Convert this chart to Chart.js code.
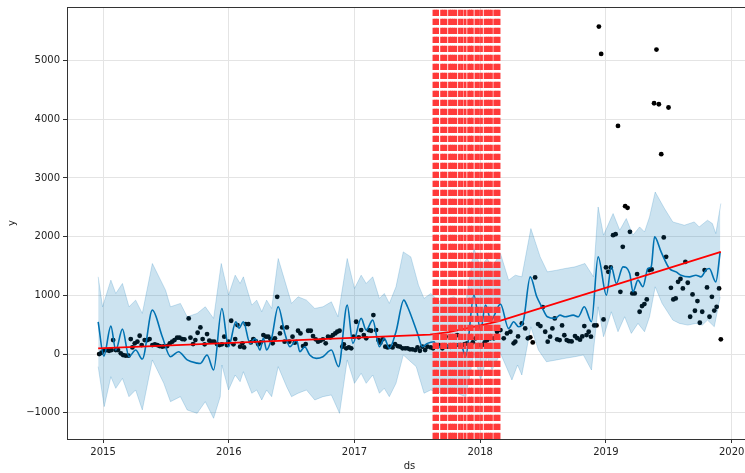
<!DOCTYPE html>
<html>
<head>
<meta charset="utf-8">
<script src="https://cdn.jsdelivr.net/npm/chart.js@4"></script>
<style>
  html, body { margin: 0; padding: 0; background: #fff; overflow: hidden; }
  #grafico { display: block; }
</style>
</head>
<body>
<canvas id="grafico" width="756" height="473"></canvas>
<script>
// observed history (ds as decimal year, y)
const ds = [
  2014.969, 2014.988, 2015.009, 2015.030, 2015.048, 2015.067, 2015.080, 2015.101, 2015.119, 2015.141,
  2015.159, 2015.180, 2015.202, 2015.220, 2015.233, 2015.252, 2015.273, 2015.291, 2015.307, 2015.331,
  2015.352, 2015.370, 2015.392, 2015.412, 2015.431, 2015.449, 2015.471, 2015.489, 2015.510, 2015.531,
  2015.550, 2015.568, 2015.589, 2015.608, 2015.629, 2015.647, 2015.681, 2015.695, 2015.716, 2015.734,
  2015.752, 2015.774, 2015.792, 2015.808, 2015.827, 2015.845, 2015.866, 2015.884, 2015.906, 2015.926,
  2015.945, 2015.964, 2015.985, 2015.998, 2016.019, 2016.037, 2016.051, 2016.069, 2016.090, 2016.108,
  2016.122, 2016.135, 2016.156, 2016.175, 2016.195, 2016.214, 2016.235, 2016.255, 2016.275, 2016.296,
  2016.314, 2016.333, 2016.349, 2016.367, 2016.385, 2016.407, 2016.425, 2016.444, 2016.462, 2016.481,
  2016.507, 2016.525, 2016.551, 2016.570, 2016.591, 2016.612, 2016.631, 2016.652, 2016.670, 2016.691,
  2016.710, 2016.729, 2016.749, 2016.771, 2016.789, 2016.808, 2016.828, 2016.847, 2016.863, 2016.881,
  2016.903, 2016.915, 2016.934, 2016.955, 2016.974, 2016.992, 2017.013, 2017.034, 2017.053, 2017.074,
  2017.093, 2017.113, 2017.132, 2017.150, 2017.172, 2017.190, 2017.206, 2017.224, 2017.245, 2017.263,
  2017.282, 2017.303, 2017.322, 2017.343, 2017.362, 2017.382, 2017.403, 2017.422, 2017.441, 2017.461,
  2017.483, 2017.501, 2017.520, 2017.540, 2017.562, 2017.580, 2017.607, 2017.625, 2017.646, 2017.672,
  2017.699, 2017.725, 2017.738, 2017.765, 2017.791, 2017.817, 2017.831, 2017.857, 2017.878, 2017.896,
  2017.923, 2017.941, 2017.963, 2017.989, 2018.015, 2018.036, 2018.055, 2018.081, 2018.108, 2018.134,
  2018.161, 2018.187, 2018.213, 2018.240, 2018.266, 2018.279, 2018.301, 2018.331, 2018.358, 2018.379,
  2018.398, 2018.418, 2018.437, 2018.460, 2018.479, 2018.498, 2018.517, 2018.537, 2018.556, 2018.574,
  2018.593, 2018.612, 2018.632, 2018.651, 2018.669, 2018.688, 2018.706, 2018.727, 2018.754, 2018.772,
  2018.794, 2018.812, 2018.828, 2018.846, 2018.863, 2018.881, 2018.907, 2018.925, 2018.944, 2018.962,
  2018.981, 2019.000, 2019.019, 2019.038, 2019.057, 2019.077, 2019.096, 2019.115, 2019.134, 2019.153,
  2019.172, 2019.191, 2019.210, 2019.229, 2019.248, 2019.268, 2019.287, 2019.306, 2019.325, 2019.344,
  2019.364, 2019.383, 2019.402, 2019.421, 2019.440, 2019.460, 2019.479, 2019.498, 2019.517, 2019.536,
  2019.555, 2019.574, 2019.593, 2019.612, 2019.632, 2019.651, 2019.670, 2019.689, 2019.708, 2019.728,
  2019.747, 2019.766, 2019.785, 2019.804, 2019.824, 2019.843, 2019.862, 2019.881, 2019.900, 2019.914
];
const y = [
  0, 22, 68, 68, 56, 68, 238, 68, 68, 12,
  -17, -28, -28, 255, 113, 182, 210, 312, 153, 238,
  238, 255, 153, 165, 153, 136, 125, 136, 136, 182,
  210, 238, 278, 278, 255, 250, 607, 278, 170, 238,
  363, 454, 255, 165, 340, 227, 210, 210, 170, 153,
  165, 295, 153, 210, 567, 165, 255, 493, 125, 182,
  113, 510, 510, 198, 255, 221, 165, 200, 323, 295,
  295, 250, 182, 267, 975, 352, 454, 210, 454, 210,
  295, 193, 397, 352, 136, 170, 397, 397, 306, 250,
  210, 227, 250, 182, 295, 284, 323, 352, 380, 397,
  125, 165, 97, 113, 97, 295, 550, 284, 408, 323,
  267, 408, 397, 664, 408, 238, 193, 250, 125, 113,
  125, 113, 170, 136, 125, 97, 97, 97, 80, 80,
  68, 113, 56, 125, 68, 125, 113, 97, 125, 153,
  97, 295, 125, 125, 153, 323, 153, 153, 170, 182,
  153, 200, 267, 153, 153, 200, 238, 267, 267, 380,
  408, 267, 352, 380, 182, 210, 300, 522, 437, 267,
  284, 198, 1305, 510, 476, 800, 380, 210, 295, 437,
  607, 250, 238, 487, 320, 238, 220, 215, 306, 270,
  245, 300, 476, 323, 380, 295, 487, 487, 5577, 5111,
  590, 1475, 1400, 1475, 2024, 2041, 3886, 1060, 1826, 2519,
  2490, 2081, 1033, 1033, 1362, 720, 817, 851, 931, 1430,
  1442, 4272, 5186, 4255, 3404, 1986, 1656, 4199, 1128, 931,
  948, 1230, 1280, 1118, 1571, 1214, 635, 1016, 737, 902,
  533, 720, 1430, 1135, 635, 975, 740, 805, 1118, 250
];

// forecast yhat
const fcDs = [
  2014.961, 2015.006, 2015.062, 2015.101, 2015.154, 2015.206, 2015.259, 2015.312, 2015.392, 2015.471,
  2015.536, 2015.600, 2015.669, 2015.748, 2015.774, 2015.827, 2015.879, 2015.945, 2015.998, 2016.056,
  2016.082, 2016.116, 2016.169, 2016.209, 2016.248, 2016.275, 2016.301, 2016.341, 2016.393, 2016.446,
  2016.486, 2016.539, 2016.565, 2016.604, 2016.644, 2016.697, 2016.749, 2016.816, 2016.873, 2016.942,
  2016.987, 2017.053, 2017.093, 2017.145, 2017.198, 2017.237, 2017.277, 2017.330, 2017.392, 2017.422,
  2017.501, 2017.540, 2017.580, 2017.633, 2017.659, 2017.712, 2017.765, 2017.844, 2017.884, 2017.950,
  2018.003, 2018.042, 2018.086, 2018.161, 2018.226, 2018.266, 2018.305, 2018.345, 2018.398, 2018.450,
  2018.490, 2018.534, 2018.596, 2018.635, 2018.675, 2018.740, 2018.780, 2018.828, 2018.885, 2018.938,
  2019.004, 2019.043, 2019.083, 2019.136, 2019.189, 2019.215, 2019.255, 2019.294, 2019.334, 2019.360,
  2019.387, 2019.439, 2019.505, 2019.558, 2019.597, 2019.664, 2019.716, 2019.756, 2019.795, 2019.822,
  2019.874, 2019.909
];
const yhat = [
  549, -34, 476, 68, 425, -45, 68, -85, 748, 295,
  -45, 40, -100, -155, -160, -17, -272, 777, 125, 550,
  440, 550, 180, 265, 68, 272, 68, 272, 805, 352,
  125, 238, 40, 125, -17, -73, -45, 68, -215, 833,
  182, 607, 408, 578, 125, 267, 97, 380, 918, 805,
  352, 125, 182, 210, 97, 180, 97, 182, -45, 1003,
  408, 833, 578, 850, 435, 550, 465, 578, 1315, 975,
  805, 635, 607, 663, 635, 663, 635, 805, 550, 1655,
  1003, 1485, 1202, 1485, 1372, 1060, 1259, 1145, 1457, 1485,
  1995, 1740, 1457, 1400, 1343, 1315, 1343, 1315, 1428, 1457,
  1230, 1740
];

// uncertainty interval
const upDs = [
  2014.961, 2014.996, 2015.062, 2015.101, 2015.154, 2015.206, 2015.259, 2015.312, 2015.392, 2015.497,
  2015.536, 2015.615, 2015.669, 2015.748, 2015.813, 2015.879, 2015.940, 2015.998, 2016.051, 2016.090,
  2016.116, 2016.183, 2016.222, 2016.262, 2016.301, 2016.341, 2016.393, 2016.460, 2016.499, 2016.551,
  2016.618, 2016.684, 2016.749, 2016.816, 2016.868, 2016.942, 2017.000, 2017.053, 2017.093, 2017.145,
  2017.198, 2017.237, 2017.277, 2017.330, 2017.388, 2017.448, 2017.509, 2017.553, 2017.607, 2017.672,
  2017.791, 2017.884, 2017.950, 2018.003, 2018.055, 2018.094, 2018.161, 2018.226, 2018.279, 2018.331,
  2018.403, 2018.477, 2018.534, 2018.608, 2018.675, 2018.754, 2018.833, 2018.901, 2018.938, 2018.981,
  2019.057, 2019.110, 2019.162, 2019.215, 2019.268, 2019.307, 2019.347, 2019.392, 2019.466, 2019.532,
  2019.624, 2019.703, 2019.742, 2019.808, 2019.847, 2019.874, 2019.914
];
const yhatUpper = [
  1315, 805, 1259, 1032, 1202, 805, 918, 692, 1542, 1088,
  805, 862, 635, 692, 805, 607, 1542, 1003, 1343, 1202,
  1315, 833, 918, 720, 918, 777, 1627, 1145, 862, 975,
  918, 777, 805, 890, 635, 1627, 1117, 1343, 1202, 1315,
  947, 1032, 862, 1145, 1740, 1655, 1173, 947, 1032, 900,
  975, 850, 1797, 1485, 1627, 1485, 1712, 1259, 1343, 1315,
  2137, 1655, 1400, 1428, 1457, 1485, 1542, 1315, 2505, 2024,
  2393, 2109, 2308, 2024, 2165, 2080, 2335, 2760, 2478, 2250,
  2194, 2250, 2165, 2279, 2222, 2052, 2563
];
const loDs = [
  2014.961, 2015.009, 2015.062, 2015.101, 2015.154, 2015.206, 2015.259, 2015.312, 2015.392, 2015.483,
  2015.536, 2015.615, 2015.669, 2015.748, 2015.813, 2015.879, 2015.932, 2015.945, 2015.998, 2016.051,
  2016.090, 2016.116, 2016.183, 2016.222, 2016.262, 2016.301, 2016.341, 2016.393, 2016.460, 2016.499,
  2016.551, 2016.618, 2016.684, 2016.749, 2016.816, 2016.881, 2016.942, 2017.000, 2017.053, 2017.093,
  2017.145, 2017.198, 2017.237, 2017.277, 2017.330, 2017.388, 2017.491, 2017.553, 2017.607, 2017.712,
  2017.791, 2017.884, 2017.950, 2018.003, 2018.055, 2018.094, 2018.161, 2018.207, 2018.252, 2018.297,
  2018.331, 2018.403, 2018.463, 2018.527, 2018.608, 2018.675, 2018.754, 2018.821, 2018.885, 2018.938,
  2018.981, 2019.043, 2019.096, 2019.149, 2019.202, 2019.255, 2019.307, 2019.347, 2019.392, 2019.447,
  2019.532, 2019.585, 2019.651, 2019.716, 2019.767, 2019.808, 2019.862, 2019.909
];
const yhatLower = [
  -215, -896, -386, -584, -414, -726, -612, -952, -100, -499,
  -811, -726, -952, -1010, -811, -1094, -726, -187, -612, -357,
  -471, -301, -668, -612, -782, -612, -726, -215, -556, -726,
  -668, -612, -782, -726, -697, -1010, -100, -499, -328, -499,
  -357, -668, -584, -726, -499, -17, -215, -668, -612, -680,
  -650, -726, 12, -442, -45, -272, 12, -215, -442, -187,
  -357, 465, 68, -131, -100, -73, -45, -17, -272, 805,
  295, 720, 380, 635, 352, 522, 380, 635, 1145, 862,
  578, 522, 493, 522, 493, 578, 465, 975
];

// trend
const trendDs = [2014.961, 2017.60, 2017.75, 2017.90, 2018.03, 2018.15, 2019.914];
const trend = [97, 330, 375, 440, 500, 560, 1740];

// significant changepoints
const changepoints = [
  2017.632, 2017.647, 2017.661, 2017.693, 2017.710, 2017.727, 2017.756, 2017.772, 2017.789, 2017.806,
  2017.835, 2017.855, 2017.880, 2017.908, 2017.923, 2017.937, 2017.966, 2017.986, 2018.010, 2018.039,
  2018.056, 2018.072, 2018.089, 2018.116, 2018.133, 2018.150
];

const xTicks = [2015, 2016, 2017, 2018, 2019, 2020];
const yTicks = [-1000, 0, 1000, 2000, 3000, 4000, 5000];

const X_MIN = 2014.713, X_MAX = 2020.162;
const Y_MIN = -1447, Y_MAX = 5911;

const canvas = document.getElementById("grafico");
const pts = (xs, ys) => xs.map((x, i) => ({ x: x, y: ys[i] }));

Chart.defaults.font.family = "'DejaVu Sans', sans-serif";
Chart.defaults.font.size = 10;
Chart.defaults.color = "#222";

const band = "rgba(0, 114, 178, 0.2)";

const datasets = [
  {
    label: "y",
    data: pts(ds, y),
    showLine: false,
    pointRadius: 2.4,
    pointBackgroundColor: "#000",
    pointBorderWidth: 0,
    order: 5,
  },
  {
    label: "yhat",
    data: pts(fcDs, yhat),
    borderColor: "#0072B2",
    borderWidth: 1.6,
    pointRadius: 0,
    cubicInterpolationMode: "monotone",
    order: 4,
  },
  {
    label: "yhat_lower",
    data: pts(loDs, yhatLower),
    borderColor: band,
    borderWidth: 1,
    pointRadius: 0,
    fill: false,
    order: 3,
  },
  {
    label: "yhat_upper",
    data: pts(upDs, yhatUpper),
    borderColor: band,
    backgroundColor: band,
    borderWidth: 1,
    pointRadius: 0,
    fill: "-1",
    order: 3,
  },
  {
    label: "trend",
    data: pts(trendDs, trend),
    borderColor: "#ff0000",
    borderWidth: 1.8,
    pointRadius: 0,
    order: 2,
  },
];

changepoints.forEach((cp) => {
  datasets.push({
    label: "cp",
    data: [{ x: cp, y: Y_MIN }, { x: cp, y: Y_MAX }],
    borderColor: "#ff3a3a",
    borderWidth: 2.8,
    borderDash: [6.3, 2.7],
    pointRadius: 0,
    order: 1,
  });
});

const gridColor = "#e4e4e4";
const axisColor = "#333";

new Chart(canvas, {
  type: "line",
  data: { datasets: datasets },
  options: {
    responsive: false,
    animation: false,
    layout: { padding: { left: 0, right: 1, top: 0, bottom: 0 } },
    plugins: { legend: { display: false }, tooltip: { enabled: false } },
    scales: {
      x: {
        type: "linear",
        position: "bottom",
        min: X_MIN,
        max: X_MAX,
        afterBuildTicks: (s) => { s.ticks = xTicks.map((v) => ({ value: v })); },
        afterFit: (s) => { s.height = 34; },
        ticks: { padding: 3, maxRotation: 0, autoSkip: false, callback: (v) => String(v) },
        grid: { color: gridColor, tickColor: axisColor, tickLength: 4 },
        border: { color: axisColor, width: 1 },
        title: { display: true, text: "ds", padding: { top: 0, bottom: 1 } },
      },
      xTop: {
        type: "linear",
        position: "top",
        min: X_MIN,
        max: X_MAX,
        afterFit: (s) => { s.height = 7; },
        ticks: { display: false },
        grid: { display: false },
        border: { color: axisColor, width: 1 },
      },
      y: {
        type: "linear",
        min: Y_MIN,
        max: Y_MAX,
        afterBuildTicks: (s) => { s.ticks = yTicks.map((v) => ({ value: v })); },
        afterFit: (s) => { s.width = 67; s.paddingTop = 0; s.paddingBottom = 0; },
        ticks: { padding: 3, callback: (v) => (v < 0 ? "\u2212" + Math.abs(v) : String(v)) },
        grid: { color: gridColor, tickColor: axisColor, tickLength: 4 },
        border: { color: axisColor, width: 1 },
        title: { display: true, text: "y", padding: { top: 6, bottom: 0 } },
      },
    },
  },
});
</script>
</body>
</html>
